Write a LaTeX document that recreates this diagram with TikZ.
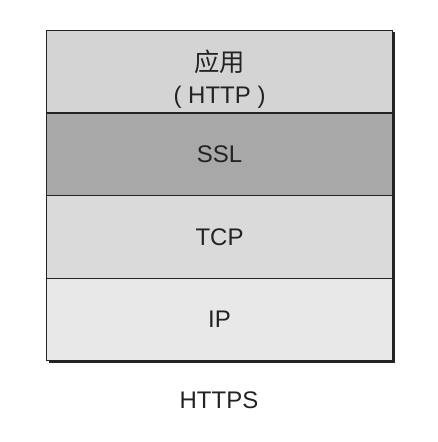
\documentclass[tikz,border=0pt]{standalone}
\usepackage{fontspec}
\setmainfont{Liberation Sans}
\newfontfamily\cjk{Noto Sans CJK SC}
\definecolor{appgray}{RGB}{212,212,212}
\definecolor{sslgray}{RGB}{168,168,168}
\definecolor{tcpgray}{RGB}{218,218,218}
\definecolor{ipgray}{RGB}{232,232,232}
\definecolor{inkgray}{RGB}{35,35,35}
\tikzset{
  layer/.style={draw=inkgray, line width=0.8pt, anchor=north west, minimum width=259.5pt, minimum height=61.875pt, inner sep=0pt, text=inkgray, font=\fontsize{18}{24}\selectfont, align=center},
}
\begin{document}
\begin{tikzpicture}[x=0.75pt,y=0.75pt,yscale=-1,xscale=1]
\useasboundingbox (0,0) rectangle (438,442);

% Shadow
\fill [inkgray] (48.5,32.5) rectangle (394.5,362.5);
% Layer Nodes
\draw (46,30) node [layer, fill=appgray, text height=52pt, text depth=4pt] (app) {{\cjk\fontsize{19}{24}\selectfont 应用}\\( HTTP )};
\draw (46,112.5) node [layer, fill=sslgray] (ssl) {SSL};
\draw (46,195) node [layer, fill=tcpgray] (tcp) {TCP};
\draw (46,277.5) node [layer, fill=ipgray] (ip) {IP};
% Text Node
\draw (219,400) node [inner sep=0.75pt, text=inkgray, font=\fontsize{18}{24}\selectfont] (https) {HTTPS};

\end{tikzpicture}
\end{document}
